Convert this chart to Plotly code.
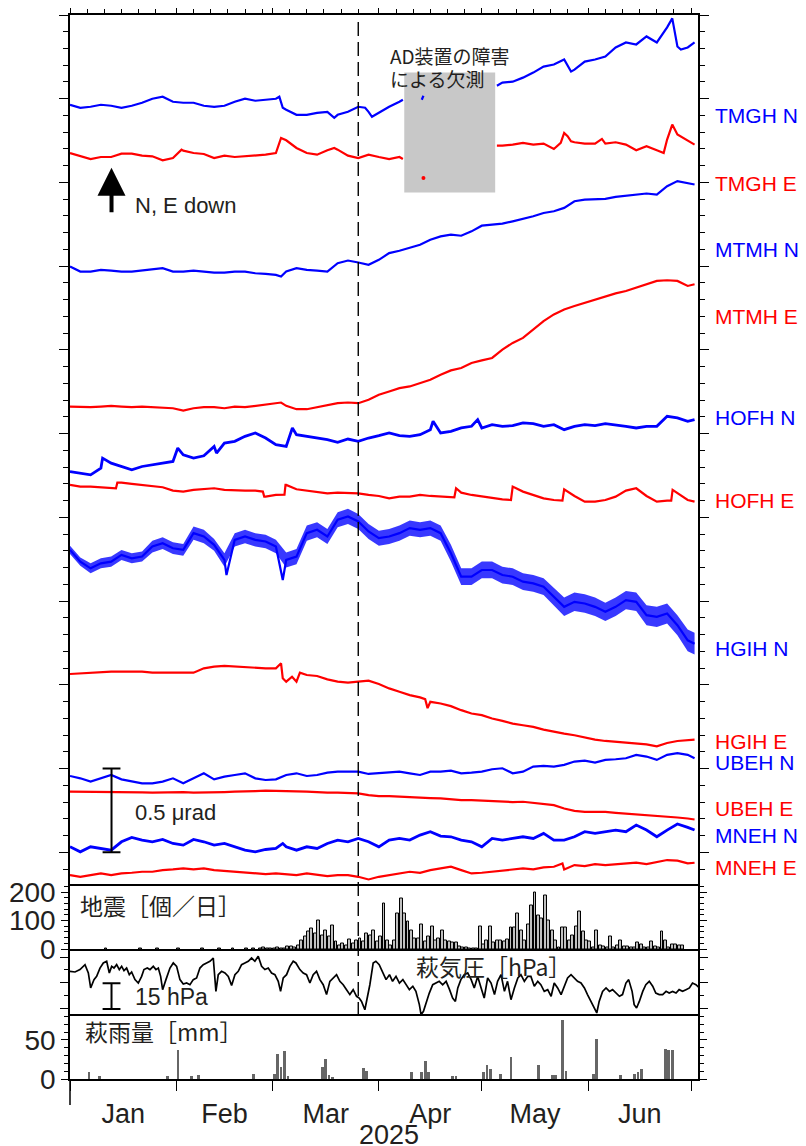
import datetime as dt
import plotly.graph_objects as go

BASE = dt.datetime(2025, 1, 1)
GRID = list(range(0, 181, 3)) + [182]
N = None

# ---- tilt data: relative change (nrad) read on a 3-day grid, plus extra points (day, nrad) ----
TMGH_N = [0, -18, -12, 0, -6, -18, -6, 12, 36, 48,
          18, 12, 12, -6, -12, -6, 18, 36, 24, 30,
          36, -30, -60, -60, -48, -42, -60, -42, -12, -42,
          -48, -12, 18, N, N, N, N, N, N, N,
          N, N, 132, 138, 162, 192, 228, 240, 270, 210,
          258, 270, 288, 342, 372, 360, 408, 372, 462, 348,
          342, 372]
TMGH_N_X = [(61, 48), (62, -18), (77, -78), (86, -18), (88, -72), (97, 30), (102.5, 30), (103, 54),
            (124.4, 114), (146, 198), (175.5, 516), (178, 330)]
TMGH_E = [0, -16, -36, -24, -24, -4, -4, -16, -20, -44,
          -30, 14, 0, -6, -30, -16, -24, -20, -16, -10,
          0, 76, 30, 0, -10, 16, 20, -16, -30, -10,
          -24, -36, -24, N, N, N, N, N, N, N,
          N, N, 44, 50, 60, 50, 56, 24, 120, 64,
          56, 56, 56, 64, 50, 16, 40, 16, 80, 110,
          76, 50]
TMGH_E_X = [(32.5, 20), (61.5, 90), (77, 30), (97, -36), (124.4, 44), (143, 60), (145, 100), (146, 70),
            (155, 84), (173, 0), (175.5, 170)]
TMGH_E_DOT_DAY = [103]
TMGH_E_DOT_VAL = [-150]
MTMH_N = [0, -30, -30, -20, -24, -30, -30, -24, -16, -10,
          -30, -30, -24, -30, -36, -36, -30, -30, -40, -44,
          -50, -30, -10, -20, -24, -30, 20, 36, 24, 10,
          40, 80, 94, 110, 130, 160, 180, 190, 184, 210,
          244, 250, 256, 270, 284, 300, 320, 330, 350, 390,
          400, 400, 404, 416, 424, 430, 436, 430, 480, 510,
          500, 490]
MTMH_N_X = [(61.5, -60)]
MTMH_E = [0, -4, -4, 0, 4, 0, -4, 0, -4, -10,
          -10, -24, -10, -4, -4, -10, 0, -4, 4, 10,
          16, 4, -16, -16, -4, 10, 20, 24, 20, 40,
          70, 90, 110, 120, 140, 160, 190, 216, 230, 260,
          276, 290, 340, 380, 410, 460, 510, 550, 580, 600,
          620, 636, 660, 676, 690, 710, 730, 750, 754, 750,
          720, 730]
MTMH_E_X = [(61.5, 24)]
HOFH_N = [0, -10, -20, 20, 50, 30, 10, 30, 40, 50,
          60, 100, 80, 94, 150, 170, 180, 210, 230, 200,
          160, 150, 220, 210, 200, 190, 174, 194, 180, 200,
          214, 230, 214, 210, 220, 250, 230, 240, 260, 270,
          260, 280, 270, 274, 290, 286, 270, 280, 250, 270,
          280, 274, 286, 280, 270, 260, 270, 270, 330, 320,
          300, 310]
HOFH_N_X = [(9.5, 80), (31.4, 140), (42.7, 110), (64.8, 260), (105.8, 300), (118.8, 310)]
HOFH_E = [0, -10, -10, -14, -20, 14, 6, 0, -10, -14,
          -34, -40, -30, -26, -20, -30, -34, -34, -34, -70,
          -60, 0, -26, -34, -40, -50, -46, -50, -50, -60,
          -66, -80, -70, -70, -60, -66, -70, -74, -46, -60,
          -70, -80, -86, -10, -40, -60, -80, -90, -26, -66,
          -100, -100, -90, -70, -34, -20, -66, -100, -94, -50,
          -90, -100]
HOFH_E_X = [(13.4, -20), (13.8, 14), (56.2, -40), (56.6, -70), (62.5, -58), (62.8, 0), (112, -74),
            (112.5, -20), (128.5, -90), (143.5, -94), (175.2, -94), (175.6, -30)]
HGIH_N = [0, -70, -110, -80, -70, -30, -50, -40, 20, 40,
          10, 0, 100, 80, 30, -60, 60, 80, 60, 50,
          20, -60, -40, 100, 120, 80, 180, 200, 170, 110,
          70, 80, 100, 130, 120, 130, 100, -20, -160, -160,
          -120, -120, -150, -160, -190, -200, -220, -280, -340, -310,
          -320, -340, -370, -340, -300, -310, -390, -400, -380, -450,
          -540, -560]
HGIH_N_X = [(45.6, -150), (62, -180)]
HGIH_N_SPREAD = [25, 25, 30, 30, 30, 30, 30, 30, 35, 35,
                 35, 35, 40, 40, 35, 40, 40, 40, 40, 40,
                 40, 45, 45, 45, 45, 45, 45, 45, 45, 45,
                 45, 45, 45, 45, 45, 45, 45, 50, 50, 50,
                 50, 50, 50, 50, 50, 50, 50, 55, 55, 55,
                 55, 55, 55, 55, 55, 55, 60, 60, 60, 60,
                 65, 65]
HGIH_E = [0, 4, 8, 8, 14, 14, 14, 14, 8, 8,
          4, 4, 8, 34, 44, 48, 44, 40, 34, 34,
          34, -46, -46, -6, -12, -32, -46, -52, -46, -40,
          -60, -86, -106, -126, -140, -166, -176, -192, -216, -236,
          -246, -266, -280, -296, -306, -316, -332, -346, -356, -366,
          -380, -392, -400, -406, -412, -416, -420, -432, -412, -400,
          -396, -392]
HGIH_E_X = [(61.5, 64), (62, -26), (64.7, -16), (67, 8), (103.5, -150), (104.2, -204)]
UBEH_N = [0, -14, -34, -14, 6, -20, -34, -44, -44, -34,
          -14, -44, -14, 16, -20, -4, 6, 16, -14, -24,
          -20, 6, 16, 0, 6, 20, 26, 26, 26, 12,
          16, 20, 26, 16, 6, 26, 26, 32, 16, 20,
          26, 40, 46, 16, 26, 56, 60, 56, 66, 86,
          92, 80, 96, 100, 106, 126, 116, 96, 126, 136,
          126, 106]
UBEH_E = [0, 0, -4, -4, 0, -2, -4, -4, -6, -4,
          -2, -2, -6, -6, -4, -2, 0, 0, 4, 6,
          6, 4, 2, 0, -4, -6, -6, -10, -10, -20,
          -26, -26, -30, -34, -34, -38, -40, -46, -50, -50,
          -54, -56, -60, -62, -60, -66, -70, -80, -100, -114,
          -120, -118, -120, -126, -130, -134, -140, -146, -150, -154,
          -160, -166]
MNEH_N = [0, -30, 0, -10, -20, 30, 56, 40, 30, 44,
          20, 10, 44, 30, 10, 20, 0, -20, -30, -16,
          -10, 0, -20, 0, -10, 20, 40, 30, 50, 30,
          0, 40, 50, 40, 70, 90, 64, 60, 40, 30,
          0, 50, 40, 50, 60, 50, 80, 40, 40, 60,
          90, 80, 90, 100, 90, 130, 100, 60, 100, 136,
          116, 100]
MNEH_N_X = [(62, 20)]
MNEH_E = [0, -10, 0, 10, 0, 10, 14, 20, 20, 30,
          34, 40, 34, 40, 30, 26, 20, 14, 10, 6,
          10, 6, 0, 10, 0, -6, 0, 0, -10, -26,
          -10, 0, 10, 20, 14, 30, 40, 50, 30, 10,
          14, 20, 30, 34, 40, 34, 46, 50, 34, 60,
          54, 66, 60, 66, 70, 74, 66, 80, 90, 86,
          70, 74]
MNEH_E_X = [(143.5, 70)]

TRACE_NAMES = ["TMGH N", "TMGH E", "MTMH N", "MTMH E", "HOFH N", "HOFH E",
               "HGIH N", "HGIH E", "UBEH N", "UBEH E", "MNEH N", "MNEH E"]
TRACE_VALS = [TMGH_N, TMGH_E, MTMH_N, MTMH_E, HOFH_N, HOFH_E, HGIH_N, HGIH_E, UBEH_N, UBEH_E, MNEH_N, MNEH_E]
TRACE_EXTRA = [TMGH_N_X, TMGH_E_X, MTMH_N_X, MTMH_E_X, HOFH_N_X, HOFH_E_X, HGIH_N_X, HGIH_E_X, [], [], MNEH_N_X, MNEH_E_X]
# stacking offsets of each trace on the display axis (nrad)
TRACE_OFFSET = [4464, 4176, 3498, 2662, 2274, 2194, 1806, 1065, 456, 362, 33, -136]
LABEL_Y_PX = [115, 183, 249, 316, 417, 500, 648, 741, 762, 808, 835, 867]

# ---- earthquakes per day (day 0 = Jan 1) ----
EQ_COUNT = [0, 0, 0, 0, 0, 0, 0, 0, 0, 0, 1, 0, 0, 0, 0, 0, 0, 0, 0, 0,
            1, 0, 0, 0, 0, 1, 0, 0, 0, 0, 0, 2, 0, 0, 0, 0, 0, 0, 1, 0,
            0, 0, 0, 2, 0, 0, 0, 1, 0, 0, 0, 2, 0, 1, 0, 2,
            5, 1, 2, 1, 6, 2, 3, 10, 8, 6, 14, 31, 43, 60, 72, 55, 101, 49, 66, 43,
            84, 26, 14, 20, 14, 34, 20, 31, 37, 26, 55, 49, 64, 26, 43, 161, 31, 14, 29, 124,
            179, 124, 95, 66, 37, 37, 87, 26, 43, 80, 31, 37, 66, 31, 26, 22, 22, 8, 6, 6,
            2, 1, 1, 78, 17, 31, 78, 22, 31, 29, 26, 34, 74, 74, 126, 66, 31, 87, 153, 200,
            118, 107, 188, 101, 64, 29, 6, 74, 74, 31, 49, 78, 130, 60, 31, 26, 6, 66, 14, 8,
            6, 45, 6, 14, 29, 10, 8, 6, 6, 22, 17, 6, 6, 26, 10, 6, 60, 29, 6, 17,
            17, 14, 12, 0, 0, 0]

# ---- Hagi air pressure (hPa) ----
P_DAY = [0, 1.46, 2.91, 4.37, 5.34, 6.02, 6.99, 7.77, 8.74, 9.71, 10.68, 11.46, 12.14, 12.82, 13.59,
         14.37, 15.05, 15.73, 16.5, 17.28, 17.96, 18.93, 19.9, 20.87, 21.55, 22.52, 23.3, 24.27,
         25.05, 25.73, 26.41, 26.99, 27.96, 29.13, 30.1, 31.07, 32.04, 33.01, 33.98, 34.95, 35.92,
         36.89, 37.86, 38.83, 39.81, 40.78, 41.75, 42.52, 43.2, 44.17, 45.15, 46.12, 47.09, 48.06,
         49.03, 50.0, 50.97, 51.94, 52.91, 53.88, 54.85, 55.83, 56.8, 57.77, 58.74, 59.71, 60.68,
         61.36, 62.14, 63.11, 64.08, 65.05, 65.83, 66.99, 67.96, 68.93, 69.9, 70.87, 71.84, 72.82,
         73.79, 74.76, 75.73, 76.7, 77.67, 78.64, 79.61, 80.58, 81.55, 82.52, 83.5, 84.27, 84.95,
         85.92, 86.7, 87.38, 88.35, 89.13, 90.1, 91.1, 92.1, 93.1, 94.0, 95.0, 96.0, 97.0, 97.9,
         98.9, 99.9, 100.8, 101.8, 102.3, 103.0, 103.8, 104.7, 105.7, 106.7, 107.6, 108.6, 109.6,
         110.6, 111.5, 112.3, 113.0, 113.9, 114.9, 115.9, 116.9, 117.8, 118.8, 119.8, 120.7, 121.7,
         122.7, 123.7, 124.6, 125.6, 126.6, 127.5, 128.5, 129.5, 130.5, 131.4, 132.4, 133.4, 134.3,
         135.3, 136.3, 137.2, 138.2, 139.2, 140.2, 141.1, 142.1, 143.1, 144.0, 145.0, 146.0, 146.9,
         147.9, 148.9, 149.9, 150.8, 151.8, 152.8, 153.5, 154.2, 155.2, 156.2, 157.2, 158.1, 159.1,
         160.1, 161.0, 162.0, 162.8, 163.8, 164.4, 165.1, 165.9, 166.9, 167.8, 168.8, 169.8, 170.7,
         171.7, 172.7, 173.7, 174.6, 175.6, 176.6, 177.5, 178.5, 179.5, 180.5, 181.4, 182.4, 183.4]
P_HPA = [1016.6, 1016.2, 1017.6, 1020.5, 1015.6, 1006.8, 1011.7, 1013.6, 1018.5, 1021.5, 1022.5,
         1015.6, 1019.5, 1018.5, 1020.5, 1017.6, 1019.5, 1017.0, 1018.5, 1014.6, 1016.2, 1011.7,
         1009.7, 1013.6, 1017.6, 1018.5, 1017.6, 1019.5, 1017.6, 1018.5, 1013.6, 1005.8, 1011.7,
         1018.5, 1021.5, 1019.5, 1011.7, 1009.1, 1009.7, 1008.7, 1011.7, 1012.7, 1018.5, 1020.5,
         1021.5, 1022.5, 1024.4, 1004.8, 1014.6, 1016.6, 1015.6, 1013.6, 1008.3, 1014.6, 1016.6,
         1020.5, 1021.5, 1022.5, 1024.4, 1022.5, 1025.4, 1019.5, 1017.6, 1018.5, 1015.6, 1014.6,
         1010.7, 1004.8, 1012.7, 1014.6, 1019.5, 1022.5, 1021.5, 1017.6, 1015.6, 1014.6, 1009.7,
         1014.6, 1016.6, 1011.7, 1008.7, 1002.9, 1010.7, 1012.7, 1014.6, 1010.7, 1008.7, 1005.8,
         1002.9, 1005.8, 1001.9, 1000.9, 998.9, 994.0, 1001.9, 1008.7, 1021.5, 1022.5, 1020.5,
         1015.6, 1011.7, 1014.6, 1010.7, 1013.6, 1009.7, 1011.7, 1008.7, 1005.8, 1007.8, 1004.8,
         997.0, 991.1, 993.1, 998.9, 1003.8, 1008.7, 1009.7, 1010.7, 1008.7, 1010.7, 1005.8, 1000.9,
         998.9, 1006.8, 1011.7, 1014.6, 1015.6, 1011.7, 1006.8, 1013.6, 1006.8, 1000.9, 1012.7,
         1009.7, 1002.9, 1010.7, 1014.6, 1004.8, 1010.7, 999.9, 1006.8, 1012.7, 1014.6, 1010.7,
         1013.6, 1013.6, 1007.8, 1010.7, 1008.7, 1004.8, 1005.8, 1001.9, 1009.7, 1006.8, 1002.9,
         1007.8, 1012.7, 1014.6, 1012.7, 1010.7, 1009.7, 1006.8, 1002.9, 998.9, 995.0, 992.1, 998.9,
         1004.8, 1006.8, 1004.8, 1005.8, 1003.8, 1001.9, 1002.9, 1009.7, 1011.7, 1004.8, 997.0,
         995.0, 998.9, 1004.8, 1008.7, 1010.7, 1007.8, 1003.8, 1002.9, 1002.9, 1004.8, 1003.8,
         1004.8, 1003.8, 1005.8, 1004.8, 1005.8, 1006.8, 1009.7, 1008.7, 1006.8]

# ---- Hagi daily rainfall (mm) ----
RAIN_DAY = [5, 8, 28, 31, 35, 37, 53, 59, 60, 61, 62, 63, 73, 74, 75, 76, 85, 86, 99, 102, 103, 104,
            111, 112, 120, 121, 122, 125, 128, 136, 140, 141, 143, 144, 152, 153, 160, 164, 165, 166,
            173, 174, 175]
RAIN_MM = [9.4, 3.8, 3.8, 37, 3.8, 5, 7, 7, 32, 16, 36, 3.8, 16, 26, 5, 3, 14, 10.7, 9.4, 9.4, 24, 9.4,
           3.8, 3.8, 9.4, 18, 13, 7, 28, 18, 5, 5, 75.6, 10, 6.4, 51, 5, 7, 9.4, 12.8,
           39, 37, 37]

EVENT_DAY = 84.0          # dashed line
GAP_DAYS = [97.4, 123.9]  # AD converter failure
MONTH_TICKS = ["2025-%02d-01" % m for m in range(1, 8)]

# ---------------- helpers ----------------
DAY_MS = 86400000
PAGE = 8                      # page body margin of the browser
TOP, BOT, LEFT, RIGHT = 15, 1079, 70, 698   # plot area in window pixels


def day(d):
    return None if d is None else BASE + dt.timedelta(days=d)


def merged(vals, extra):
    pts = sorted(list(zip(GRID, vals)) + list(extra), key=lambda p: p[0])
    return [day(p[0]) for p in pts], [p[1] for p in pts]


def py(px):
    return (BOT - px) / (BOT - TOP)


def pxx(px):
    return (px - LEFT) / (RIGHT - LEFT)


BLUE, RED, INK = "#0000ff", "#ff0000", "#231f20"
FONT = "Liberation Sans, Arial, Noto Sans CJK JP, sans-serif"
JFONT = "Noto Sans CJK JP, Liberation Sans, sans-serif"

fig = go.Figure()

# HGIH N noise band
hx = [day(d) for d in GRID]
lo = [TRACE_OFFSET[6] + v - s for v, s in zip(HGIH_N, HGIH_N_SPREAD)]
hi = [TRACE_OFFSET[6] + v + s for v, s in zip(HGIH_N, HGIH_N_SPREAD)]
fig.add_trace(go.Scatter(x=hx + hx[::-1], y=hi + lo[::-1], fill="toself", mode="lines",
                         line=dict(width=0), fillcolor="rgba(0,0,255,0.78)", hoverinfo="skip",
                         xaxis="x", yaxis="y", showlegend=False))

for i, (name, vals, extra, off) in enumerate(zip(TRACE_NAMES, TRACE_VALS, TRACE_EXTRA, TRACE_OFFSET)):
    xs, ys = merged(vals, extra)
    ys = [None if v is None else off + v for v in ys]
    col = BLUE if name.endswith("N") else RED
    w = 2.8 if name in ("HOFH N", "MNEH N") else 2.2
    fig.add_trace(go.Scatter(x=xs, y=ys, mode="lines", line=dict(color=col, width=w),
                             connectgaps=False, xaxis="x", yaxis="y", showlegend=False, name=name))

fig.add_trace(go.Scatter(x=[day(d) for d in TMGH_E_DOT_DAY],
                         y=[TRACE_OFFSET[1] + v for v in TMGH_E_DOT_VAL],
                         mode="markers", marker=dict(color=RED, size=4), xaxis="x", yaxis="y",
                         showlegend=False))

# earthquakes
eq_d = [d for d, c in enumerate(EQ_COUNT) if c > 0]
eq_c = [c for c in EQ_COUNT if c > 0]
fig.add_trace(go.Bar(x=[day(d + 0.5) for d in eq_d], y=eq_c, width=0.85 * DAY_MS,
                     marker=dict(color="#c0c0c0", line=dict(color="black", width=1)),
                     xaxis="x2", yaxis="y2", showlegend=False))
# pressure
fig.add_trace(go.Scatter(x=[day(d) for d in P_DAY], y=P_HPA, mode="lines",
                         line=dict(color="black", width=1.7), xaxis="x3", yaxis="y3", showlegend=False))
# rain
fig.add_trace(go.Bar(x=[day(d + 0.5) for d in RAIN_DAY], y=RAIN_MM, width=0.8 * DAY_MS,
                     marker=dict(color="#666666", line=dict(width=0)),
                     xaxis="x4", yaxis="y4", showlegend=False))

xr = [BASE, day(183)]
minor_vals = ["2025-%02d-%02d" % (m, dd) for m in range(1, 8) for dd in (6, 11, 16, 21, 26)]
common_x = dict(type="date", range=xr, showgrid=False, zeroline=False,
                linecolor="black", linewidth=1.5)
common_y = dict(showgrid=False, zeroline=False, showline=True, linecolor="black", linewidth=1.5,
                mirror="ticks", ticks="outside", tickcolor="black", tickwidth=1.3)

d_main = [py(885.5), 1]
d_eq = [py(949), py(885.5)]
d_pr = [py(1015.7), py(949)]
d_rn = [0, py(1015.7)]

fig.update_layout(
    width=806 - PAGE, height=1146 - PAGE, template="none",
    margin=dict(l=LEFT - PAGE, r=806 - RIGHT, t=TOP - PAGE, b=1146 - BOT, pad=0),
    paper_bgcolor="white", plot_bgcolor="white", showlegend=False, bargap=0,
    font=dict(family=FONT, color=INK),
    xaxis=dict(common_x, anchor="y", side="top", showline=True, mirror=False, ticks="outside",
               ticklen=8, tickwidth=1.3, tickcolor="black", tickvals=MONTH_TICKS,
               showticklabels=False,
               minor=dict(tickvals=minor_vals, ticks="outside", ticklen=4, tickwidth=1.2,
                          tickcolor="black")),
    yaxis=dict(common_y, domain=d_main, anchor="x", range=[-198, 5000], tick0=0, dtick=500,
               ticklen=9, showticklabels=False,
               minor=dict(dtick=100, ticks="outside", ticklen=5, tickwidth=1.2, tickcolor="black")),
    xaxis2=dict(common_x, anchor="y2", matches="x", side="top", showline=True, mirror=True,
                ticks="", showticklabels=False),
    yaxis2=dict(common_y, domain=d_eq, anchor="x2", range=[0, 223], tickvals=[0, 100, 200],
                ticktext=["0", "100", "200"], ticklen=7, tickfont=dict(size=28, color=INK),
                minor=dict(dtick=20, ticks="outside", ticklen=4, tickwidth=1.2, tickcolor="black")),
    xaxis3=dict(common_x, anchor="y3", matches="x", showline=False, ticks="",
                showticklabels=False),
    yaxis3=dict(common_y, domain=d_pr, anchor="x3", range=[990.5, 1029.7], tick0=995, dtick=15,
                ticklen=8, showticklabels=False,
                minor=dict(dtick=7.5, tick0=995, ticks="outside", ticklen=4, tickwidth=1.2,
                           tickcolor="black")),
    xaxis4=dict(common_x, anchor="y4", matches="x", side="bottom", showline=True, mirror=True,
                ticks="outside", ticklen=10, tickwidth=1.3, tickcolor="black", dtick="M1",
                tick0="2025-01-01", tickformat="%b", ticklabelmode="period",
                tickfont=dict(size=27, color=INK)),
    yaxis4=dict(common_y, domain=d_rn, anchor="x4", range=[0, 81], tickvals=[0, 50], ticklen=7,
                tickfont=dict(size=28, color=INK),
                minor=dict(dtick=10, ticks="outside", ticklen=4, tickwidth=1.2, tickcolor="black")),
)

shapes = [
    dict(type="rect", xref="x", yref="y", x0=day(GAP_DAYS[0]), x1=day(GAP_DAYS[1]), y0=3940, y1=4657,
         fillcolor="#c8c8c8", line=dict(width=0), layer="below"),
    dict(type="line", xref="x", yref="paper", x0=day(EVENT_DAY), x1=day(EVENT_DAY),
         y0=py(22), y1=py(1015.7), line=dict(color="black", width=1.4, dash="14px,6px")),
    dict(type="line", xref="paper", yref="paper", x0=0, x1=0, y0=0, y1=py(1105),
         line=dict(color="black", width=1.5)),
    # 0.5 urad scale bar
    dict(type="line", xref="x", yref="y", x0=day(12.1), x1=day(12.1), y0=0, y1=500,
         line=dict(color="black", width=2)),
    dict(type="line", xref="x", yref="y", x0=day(9.5), x1=day(14.7), y0=0, y1=0,
         line=dict(color="black", width=2)),
    dict(type="line", xref="x", yref="y", x0=day(9.5), x1=day(14.7), y0=500, y1=500,
         line=dict(color="black", width=2)),
    # 15 hPa scale bar
    dict(type="line", xref="x3", yref="y3", x0=day(12.1), x1=day(12.1), y0=994.5, y1=1009.5,
         line=dict(color="black", width=2)),
    dict(type="line", xref="x3", yref="y3", x0=day(9.5), x1=day(14.7), y0=994.5, y1=994.5,
         line=dict(color="black", width=2)),
    dict(type="line", xref="x3", yref="y3", x0=day(9.5), x1=day(14.7), y0=1009.5, y1=1009.5,
         line=dict(color="black", width=2)),
]
fig.update_layout(shapes=shapes)


def txt(text, xpx, ypx, size=21, anchor="left", color=INK, family=FONT, yanchor="middle"):
    fig.add_annotation(text=text, xref="paper", yref="paper", x=pxx(xpx), y=py(ypx),
                       xanchor=anchor, yanchor=yanchor, showarrow=False,
                       font=dict(size=size, color=color, family=family))


txt("2025/06/23", 353, 15, size=30, anchor="center", yanchor="bottom")
txt("AD装置の障害", 388, 55, size=19, family=JFONT)
txt("による欠測", 388, 78, size=19, family=JFONT)
txt("N, E down", 133, 205, size=22)
txt("0.5 μrad", 133, 812, size=22)
txt("15 hPa", 133, 997, size=23)
txt("地震［個／日］", 78, 905, size=23, family=JFONT)
txt("萩気圧［hPa］", 414, 966, size=23, family=JFONT)
txt("萩雨量［mm］", 83, 1031, size=23, family=JFONT)
txt("2025", 389, 1135, size=27, anchor="center")
for name, ypx in zip(TRACE_NAMES, LABEL_Y_PX):
    txt(name, 713, ypx, size=21, color=BLUE if name.endswith("N") else RED)

fig.add_annotation(x=day(12.1), y=4088, xref="x", yref="y", ax=0, ay=46, text="", showarrow=True,
                   arrowhead=2, arrowsize=1.4, arrowwidth=4, arrowcolor="black")

fig.write_html("out.html")
